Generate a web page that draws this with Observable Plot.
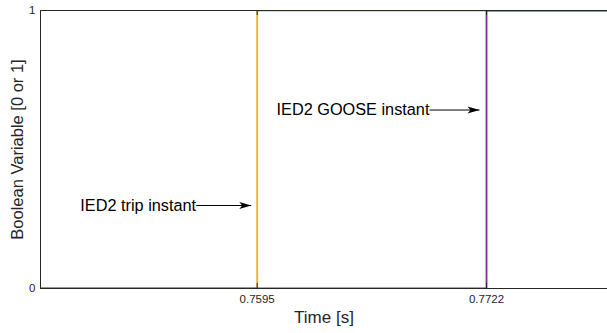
<!DOCTYPE html>
<html>
<head>
<meta charset="utf-8">
<script src="https://cdn.jsdelivr.net/npm/d3@7"></script>
<script src="https://cdn.jsdelivr.net/npm/@observablehq/plot@0.6"></script>
<style>
  html, body { margin: 0; padding: 0; background: #fff; }
  #chart { width: 607px; height: 333px; }
  svg { font-family: "Liberation Sans", Arial, Helvetica, sans-serif; }
</style>
</head>
<body>
<div id="chart"></div>
<script>
// Data
const xDomain = [0.7475, 0.7789];
const xTicks = [0.7595, 0.7722];
const yTicks = [0, 1];
const tripTime = [0.7475, 0.7595, 0.7595, 0.7789];
const tripValue = [0, 0, 1, 1];
const gooseTime = [0.7475, 0.7722, 0.7722, 0.7789];
const gooseValue = [0, 0, 1, 1];
const annText = ["IED2 trip instant", "IED2 GOOSE instant"];
const annX1 = [0.75612, 0.76904];
const annX2 = [0.75917, 0.77181];
const annY = [0.2986, 0.642];
const xLabel = "Time [s]";
const yLabel = "Boolean Variable [0 or 1]";

const trip = tripTime.map((t, i) => ({t, v: tripValue[i]}));
const goose = gooseTime.map((t, i) => ({t, v: gooseValue[i]}));
const ann = annText.map((s, i) => ({s, x1: annX1[i], x2: annX2[i], y: annY[i]}));

const axisColor = "#262626";
const font = '"Liberation Sans", Arial, Helvetica, sans-serif';

// MATLAB-like filled, notched arrowhead with its tip at the anchor point
const arrowHead = {
  draw(context) {
    context.moveTo(0, 0);
    context.lineTo(-12, -3.6);
    context.lineTo(-9, 0);
    context.lineTo(-12, 3.6);
    context.closePath();
  }
};

const chart = Plot.plot({
  width: 607,
  height: 333,
  marginLeft: 40,
  marginRight: 0,
  marginTop: 10,
  marginBottom: 45,
  style: {fontFamily: font, background: "#fff", color: axisColor},
  x: {domain: xDomain, axis: null},
  y: {domain: [0, 1], axis: null},
  marks: [
    Plot.line(trip, {x: "t", y: "v", stroke: "#EDB120", strokeWidth: 1.8, clip: true}),
    Plot.line(goose, {x: "t", y: "v", stroke: "#7E2F8E", strokeWidth: 1.8, clip: true}),
    Plot.frame({stroke: axisColor, strokeWidth: 1}),
    // inward ticks
    Plot.ruleX(xTicks, {x: d => d, y1: 0, y2: 0, insetTop: -5, stroke: axisColor}),
    Plot.ruleX(xTicks, {x: d => d, y1: 1, y2: 1, insetBottom: -5, stroke: axisColor}),
    Plot.ruleY(yTicks, {y: d => d, x1: xDomain[0], x2: xDomain[0], insetRight: -5, stroke: axisColor}),
    Plot.ruleY(yTicks, {y: d => d, x1: xDomain[1], x2: xDomain[1], insetLeft: -5, stroke: axisColor}),
    // tick labels
    Plot.text(xTicks, {x: d => d, frameAnchor: "bottom", dy: 14.5, text: d => d.toFixed(4), fontSize: 11.5, fill: axisColor}),
    Plot.text(yTicks, {y: d => d, frameAnchor: "left", dx: -5, textAnchor: "end", text: d => String(d), fontSize: 11.5, fill: axisColor}),
    // axis labels
    Plot.text([xLabel], {frameAnchor: "bottom", dy: 34.5, text: d => d, fontSize: 17, fill: axisColor}),
    Plot.text([yLabel], {frameAnchor: "left", dx: -23, rotate: -90, textAnchor: "middle", text: d => d, fontSize: 16.5, fill: axisColor}),
    // annotations
    Plot.link(ann, {x1: "x1", x2: "x2", y1: "y", y2: "y", stroke: "#000", strokeWidth: 1}),
    Plot.dot(ann, {x: "x2", y: "y", symbol: arrowHead, fill: "#000", stroke: "none"}),
    Plot.text(ann, {x: "x1", y: "y", text: "s", textAnchor: "end", fontSize: 16.3, fill: "#000"})
  ]
});
document.getElementById("chart").appendChild(chart);
</script>
</body>
</html>
